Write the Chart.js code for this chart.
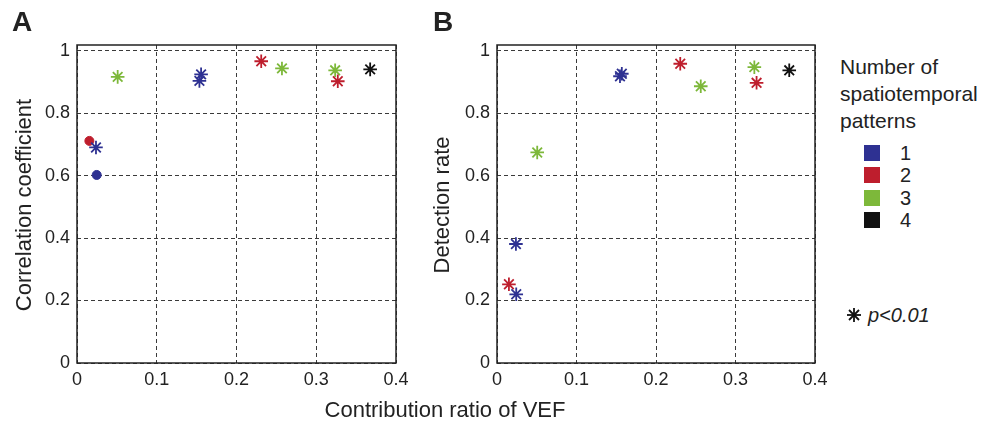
<!DOCTYPE html>
<html>
<head>
<meta charset="utf-8">
<script src="https://cdn.jsdelivr.net/npm/chart.js@4.4.1/dist/chart.umd.min.js"></script>
<style>
  body { margin: 0; background: #fff; }
  #wrap { position: relative; width: 989px; height: 427px; overflow: hidden;
          font-family: 'Liberation Sans', Arial, sans-serif; color: #222; }
  canvas { position: absolute; top: 0; }
  .panel { position: absolute; font-size: 28px; line-height: 28px; font-weight: bold; }
  .ytitle { position: absolute; font-size: 22px; line-height: 22px; white-space: nowrap;
            transform: translate(-50%, -50%) rotate(-90deg); }
  .xtitle { position: absolute; font-size: 22px; line-height: 22px; white-space: nowrap;
            transform: translateX(-50%); }
  .legtitle { position: absolute; left: 840px; top: 53px; font-size: 21px; line-height: 27px; }
  .legrow { position: absolute; left: 864px; height: 16px; }
  .legrow span.sw { position: absolute; left: 0; top: 0; width: 16px; height: 16px; }
  .legrow span.tx { position: absolute; left: 36px; top: -2px; font-size: 20px; line-height: 20px; }
  .sig { position: absolute; left: 868px; top: 305px; font-size: 20px; line-height: 20px; font-style: italic; }
</style>
</head>
<body>
<div id="wrap">
  <canvas id="chartA" width="420" height="427" style="left:0"></canvas>
  <canvas id="chartB" width="420" height="427" style="left:420px"></canvas>

  <div class="panel" style="left:12px;top:8px">A</div>
  <div class="panel" style="left:433px;top:8px">B</div>
  <div class="ytitle" style="left:24px;top:205px">Correlation coefficient</div>
  <div class="ytitle" style="left:442px;top:205px">Detection rate</div>
  <div class="xtitle" style="left:445px;top:399px">Contribution ratio of VEF</div>

  <div class="legtitle">Number of<br>spatiotemporal<br>patterns</div>
  <div id="legend"></div>
  <svg style="position:absolute;left:846px;top:307px" width="16" height="16" viewBox="-8 -8 16 16">
    <g stroke="#111" stroke-width="1.8">
      <line x1="0" y1="-7" x2="0" y2="7"/><line x1="-7" y1="0" x2="7" y2="0"/>
      <line x1="-5" y1="-5" x2="5" y2="5"/><line x1="-5" y1="5" x2="5" y2="-5"/>
    </g>
  </svg>
  <div class="sig">p&lt;0.01</div>
</div>

<script>
'use strict';

// ── Data ─────────────────────────────────────────────────────────
const groupLabels = ['1', '2', '3', '4'];
const groupColors = ['#2e3192', '#be1e2d', '#7db83a', '#111111'];

const xTicks = [0, 0.1, 0.2, 0.3, 0.4];
const yTicks = [0, 0.2, 0.4, 0.6, 0.8, 1];

// Panel A: correlation coefficient
const ratioA = [0.051, 0.1556, 0.1535, 0.231, 0.257, 0.3237, 0.327, 0.3676, 0.0155, 0.0238, 0.0247];
const corrA  = [0.916, 0.924, 0.903, 0.966, 0.943, 0.937, 0.902, 0.940, 0.711, 0.690, 0.602];
const groupA = [3, 1, 1, 2, 3, 3, 2, 4, 2, 1, 1];
const sigA   = [1, 1, 1, 1, 1, 1, 1, 1, 0, 1, 0];

// Panel B: detection rate
const ratioB = [0.0506, 0.1547, 0.157, 0.2305, 0.2563, 0.3237, 0.3265, 0.3676, 0.0238, 0.015, 0.0242];
const rateB  = [0.674, 0.918, 0.926, 0.958, 0.886, 0.947, 0.897, 0.937, 0.381, 0.252, 0.220];
const groupB = [3, 1, 1, 2, 3, 3, 2, 4, 1, 2, 1];
const sigB   = [1, 1, 1, 1, 1, 1, 1, 1, 1, 1, 1];

// ── Frame round the plot area ────────────────────────────────────
const framePlugin = {
  id: 'frame',
  beforeDatasetsDraw(chart) {
    const { ctx, chartArea: a } = chart;
    ctx.save();
    ctx.strokeStyle = '#222';
    ctx.lineWidth = 1.5;
    ctx.strokeRect(a.left, a.top, a.right - a.left, a.bottom - a.top);
    ctx.restore();
  },
};

function buildDatasets(xs, ys, groups, sig) {
  return groupLabels.map((label, gi) => {
    const idx = groups.map((g, i) => (g === gi + 1 ? i : -1)).filter(i => i >= 0);
    return {
      label,
      data: idx.map(i => ({ x: xs[i], y: ys[i] })),
      pointStyle: idx.map(i => (sig[i] ? 'star' : 'circle')),
      pointRadius: idx.map(i => (sig[i] ? 6.8 : 4.5)),
      pointBorderWidth: idx.map(i => (sig[i] ? 1.8 : 1)),
      pointBorderColor: groupColors[gi],
      pointBackgroundColor: groupColors[gi],
      showLine: false,
      clip: false,
    };
  });
}

const tickFont = { family: "'Liberation Sans', Arial, sans-serif", size: 18 };

function renderPanel(canvasId, xs, ys, groups, sig, padRight) {
  const canvas = document.getElementById(canvasId);
  return new Chart(canvas, {
    type: 'scatter',
    data: { datasets: buildDatasets(xs, ys, groups, sig) },
    plugins: [framePlugin],
    options: {
      responsive: false,
      animation: false,
      devicePixelRatio: 1,
      layout: { padding: { top: 45, right: padRight, bottom: 0, left: 0 } },
      plugins: { legend: { display: false }, tooltip: { enabled: false } },
      scales: {
        x: {
          type: 'linear', min: 0, max: 0.4,
          afterBuildTicks: s => { s.ticks = xTicks.map(v => ({ value: v })); },
          afterFit: s => { s.height = 64; },
          grid: { color: '#3a3a3a', lineWidth: 1, drawTicks: false },
          border: { display: false, dash: [4, 3] },
          ticks: { autoSkip: false, maxRotation: 0, padding: 6, color: '#222', font: tickFont,
                   callback: v => String(v) },
        },
        y: {
          type: 'linear', min: 0, max: 1.018,
          afterBuildTicks: s => { s.ticks = yTicks.map(v => ({ value: v })); },
          afterFit: s => { s.width = 77; },
          grid: { color: '#3a3a3a', lineWidth: 1, drawTicks: false },
          border: { display: false, dash: [4, 3] },
          ticks: { autoSkip: false, padding: 7, color: '#222', font: tickFont,
                   callback: v => String(v) },
        },
      },
    },
  });
}

renderPanel('chartA', ratioA, corrA, groupA, sigA, 24);
renderPanel('chartB', ratioB, rateB, groupB, sigB, 25);

// ── Legend ───────────────────────────────────────────────────────
const legend = document.getElementById('legend');
groupLabels.forEach((label, i) => {
  const row = document.createElement('div');
  row.className = 'legrow';
  row.style.top = (145 + i * 22.4) + 'px';
  row.innerHTML = `<span class="sw" style="background:${groupColors[i]}"></span><span class="tx">${label}</span>`;
  legend.appendChild(row);
});
</script>
</body>
</html>
